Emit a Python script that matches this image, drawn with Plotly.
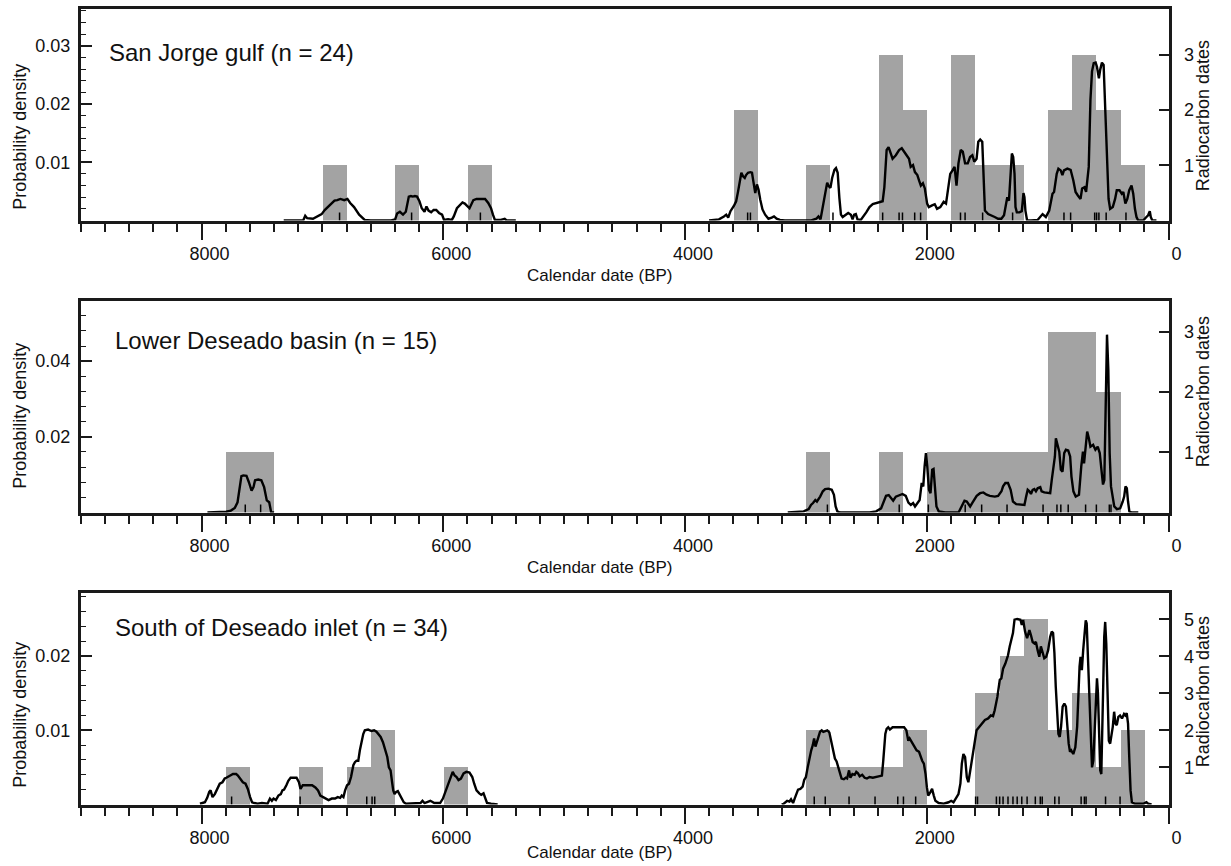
import plotly.graph_objects as go

# ---------------- data ----------------
x_tick_vals = [0, 2000, 4000, 6000, 8000]
x_tick_text = ["0", "2000", "4000", "6000", "8000"]

titles = ["San Jorge gulf (n = 24)", "Lower Deseado basin (n = 15)", "South of Deseado inlet (n = 34)"]

# histogram (200-yr bins): bin centres (cal BP) and counts
p1_bins = [6900, 6300, 5700, 3500, 2900, 2300, 2100, 1700, 1500, 1300, 900, 700, 500, 300]
p1_counts = [1, 1, 1, 2, 1, 3, 2, 3, 1, 1, 2, 3, 2, 1]
p2_bins = [7700, 7500, 2900, 2300, 1900, 1700, 1500, 1300, 1100, 900, 700, 500]
p2_counts = [1, 1, 1, 1, 1, 1, 1, 1, 1, 3, 3, 2]
p3_bins = [7700, 7100, 6700, 6500, 5900, 2900, 2700, 2500, 2300, 2100, 1500, 1300, 1100, 900, 700, 500, 300]
p3_counts = [1, 1, 1, 2, 1, 2, 1, 1, 1, 2, 3, 4, 5, 2, 3, 1, 2]

# summed probability density curves
p1_x = [7320, 7159, 7142, 7126, 7078, 7006, 6981, 6948, 6922, 6900,
        6877, 6851, 6819, 6793, 6770, 6738, 6696, 6650, 6600, 6430,
        6398, 6382, 6359, 6333, 6310, 6285, 6268, 6252, 6235, 6217,
        6197, 6178, 6155, 6139, 6122, 6100, 6080, 6058, 6035, 6010,
        5994, 5960, 5929, 5913, 5887, 5864, 5841, 5822, 5799, 5783,
        5751, 5725, 5686, 5654, 5628, 5605, 5589, 5573, 5524, 5492,
        5476, 5400, 3801, 3719, 3678, 3659, 3643, 3624, 3596, 3577,
        3561, 3547, 3534, 3520, 3506, 3495, 3479, 3460, 3446, 3433,
        3419, 3405, 3392, 3378, 3359, 3337, 3310, 3283, 3264, 3242,
        3215, 3174, 2955, 2914, 2896, 2879, 2860, 2841, 2824, 2811,
        2797, 2783, 2764, 2751, 2737, 2723, 2710, 2696, 2669, 2650,
        2628, 2614, 2601, 2587, 2573, 2546, 2501, 2474, 2447, 2406,
        2365, 2351, 2332, 2316, 2297, 2283, 2256, 2229, 2207, 2188,
        2169, 2147, 2133, 2114, 2098, 2078, 2064, 2049, 2032, 2016,
        1997, 1983, 1956, 1934, 1915, 1888, 1860, 1841, 1825, 1806,
        1787, 1770, 1754, 1738, 1719, 1702, 1683, 1661, 1642, 1623,
        1607, 1588, 1574, 1558, 1541, 1530, 1519, 1492, 1465, 1438,
        1410, 1383, 1361, 1348, 1334, 1320, 1307, 1296, 1285, 1274,
        1266, 1255, 1233, 1214, 1200, 1192, 1184, 1170, 1137, 1083,
        1042, 1015, 987, 960, 947, 925, 911, 892, 878, 865,
        837, 810, 788, 769, 750, 728, 715, 696, 682, 660,
        646, 633, 619, 603, 592, 576, 565, 551, 537, 524,
        510, 496, 483, 461, 442, 428, 406, 387, 374, 357,
        341, 325, 306, 292, 278, 265, 251, 210, 183, 169,
        155, 147, 134, 100]
p1_y = [0, 0, 0.0008, 0.0004, 0.0003, 0.0011, 0.0018, 0.0025, 0.0031, 0.0034,
        0.0035, 0.0037, 0.0035, 0.0037, 0.003, 0.0023, 0.001, 0.0001, 0, 0,
        0.0002, 0.0012, 0.0015, 0.001, 0.0015, 0.0041, 0.0042, 0.0041, 0.0042, 0.0041,
        0.0033, 0.0021, 0.0015, 0.0024, 0.0017, 0.0014, 0.0018, 0.0018, 0.0013, 0.001,
        0.0001, 0.0002, 0.0001, 0.0007, 0.0021, 0.0027, 0.0031, 0.0029, 0.0024, 0.0021,
        0.0035, 0.0037, 0.0037, 0.0037, 0.003, 0.0021, 0.001, 0.0001, 0.0001, 0.0003,
        0, 0, 0, 0.0002, 0.0007, 0.001, 0.0005, 0.0016, 0.0025, 0.0033,
        0.005, 0.007, 0.0082, 0.0076, 0.0073, 0.0078, 0.0082, 0.0083, 0.0082, 0.0065,
        0.0047, 0.0062, 0.0053, 0.0036, 0.0019, 0.001, 0.0003, 0.0005, 0.0007, 0.0003,
        0.0001, 0, 0, 0.0003, 0.0007, 0.0002, 0.0022, 0.0047, 0.0065, 0.0059,
        0.0056, 0.0073, 0.0087, 0.009, 0.0082, 0.0039, 0.001, 0.0006, 0.001, 0.0013,
        0.001, 0.0002, 0.001, 0.0011, 0.0002, 0.0001, 0.0014, 0.0023, 0.0028, 0.003,
        0.0033, 0.0057, 0.0121, 0.0126, 0.0115, 0.0106, 0.0112, 0.0121, 0.0124, 0.0118,
        0.0112, 0.0106, 0.0092, 0.0095, 0.0083, 0.0078, 0.0069, 0.006, 0.0064, 0.0055,
        0.0029, 0.0023, 0.0026, 0.0028, 0.002, 0.0023, 0.0032, 0.0029, 0.0052, 0.008,
        0.0086, 0.0092, 0.006, 0.0098, 0.0121, 0.0118, 0.0098, 0.0098, 0.0109, 0.0112,
        0.0101, 0.0106, 0.0135, 0.0139, 0.0135, 0.0075, 0.0017, 0.0011, 0.0009, 0.0006,
        0.0003, 0.0003, 0.0009, 0.0026, 0.004, 0.0034, 0.008, 0.0115, 0.0109, 0.008,
        0.0023, 0.0014, 0.0014, 0.0016, 0.0047, 0.004, 0.0017, 0, 0, 0.0001,
        0.0011, 0.0006, 0.0017, 0.0046, 0.0049, 0.008, 0.0089, 0.0086, 0.0078, 0.0086,
        0.0089, 0.0087, 0.0069, 0.0049, 0.0043, 0.0037, 0.0055, 0.0057, 0.0049, 0.0092,
        0.0207, 0.0256, 0.027, 0.0271, 0.0264, 0.0244, 0.0259, 0.0271, 0.0267, 0.0195,
        0.0109, 0.0037, 0.002, 0.0023, 0.0037, 0.0052, 0.0052, 0.0046, 0.0049, 0.0029,
        0.0037, 0.0052, 0.006, 0.0046, 0.002, 0.0006, 0, 0, 0.0006, 0.0009,
        0.0016, 0.0006, 0, 0]

p2_x = [7951, 7796, 7757, 7725, 7702, 7686, 7670, 7654, 7628, 7608,
        7586, 7570, 7557, 7531, 7505, 7482, 7460, 7440, 7424, 7400,
        3150, 3073, 3018, 2977, 2958, 2941, 2922, 2909, 2895, 2882,
        2860, 2841, 2814, 2786, 2768, 2754, 2740, 2718, 2473, 2419,
        2378, 2359, 2337, 2315, 2297, 2278, 2256, 2228, 2201, 2174,
        2152, 2132, 2113, 2097, 2078, 2059, 2042, 2029, 2018, 2007,
        1996, 1982, 1969, 1955, 1944, 1934, 1920, 1901, 1846, 1737,
        1710, 1688, 1669, 1641, 1622, 1606, 1587, 1559, 1532, 1505,
        1478, 1437, 1410, 1382, 1369, 1350, 1328, 1306, 1287, 1260,
        1219, 1192, 1178, 1165, 1151, 1138, 1124, 1110, 1097, 1083,
        1061, 1050, 1028, 1001, 979, 966, 951, 940, 932, 918,
        904, 891, 877, 863, 849, 830, 814, 803, 787, 768,
        741, 722, 708, 699, 686, 673, 659, 646, 624, 605,
        586, 569, 555, 542, 531, 520, 509, 498, 487, 476,
        466, 449, 427, 400, 379, 367, 356, 345, 335, 324,
        305, 250]
p2_y = [0, 0.0002, 0.0005, 0.0012, 0.0027, 0.0058, 0.0096, 0.0098, 0.0097, 0.008,
        0.0058, 0.0067, 0.0085, 0.0087, 0.0085, 0.0067, 0.0032, 0.0027, 0.0001, 0,
        0, 0.0002, 0.0003, 0.0009, 0.002, 0.0025, 0.0033, 0.0029, 0.0038, 0.0042,
        0.0056, 0.0062, 0.0063, 0.006, 0.0047, 0.0016, 0.0003, 0, 0, 0.0003,
        0.0011, 0.0029, 0.0044, 0.0046, 0.0037, 0.0031, 0.0042, 0.0046, 0.0049, 0.0044,
        0.0026, 0.002, 0.0025, 0.0016, 0.0026, 0.0033, 0.0078, 0.0069, 0.0122, 0.0157,
        0.0122, 0.006, 0.0051, 0.0113, 0.0115, 0.0078, 0.0016, 0.0003, 0, 0,
        0.0016, 0.0031, 0.0029, 0.0016, 0.0026, 0.0033, 0.0044, 0.0051, 0.0053, 0.0047,
        0.0044, 0.0042, 0.0044, 0.0056, 0.0069, 0.0078, 0.0078, 0.006, 0.0029, 0.0022,
        0.002, 0.002, 0.0042, 0.006, 0.0056, 0.0049, 0.006, 0.0062, 0.0056, 0.0064,
        0.0067, 0.0056, 0.0053, 0.0051, 0.0051, 0.0086, 0.013, 0.0148, 0.0196, 0.0179,
        0.0161, 0.0113, 0.0108, 0.0157, 0.0166, 0.0164, 0.0148, 0.0095, 0.0056, 0.0042,
        0.0047, 0.0122, 0.0161, 0.013, 0.0174, 0.0214, 0.0196, 0.0174, 0.0179, 0.0166,
        0.0174, 0.0157, 0.0113, 0.0074, 0.0086, 0.0245, 0.047, 0.0377, 0.0157, 0.0069,
        0.0051, 0.0016, 0.0009, 0.0011, 0.0029, 0.0042, 0.0069, 0.0064, 0.0029, 0.0003,
        0, 0]

p3_x = [8013, 7972, 7953, 7936, 7925, 7909, 7890, 7871, 7849, 7827,
        7808, 7795, 7778, 7762, 7740, 7713, 7699, 7680, 7658, 7636,
        7617, 7598, 7582, 7563, 7536, 7500, 7454, 7434, 7418, 7404,
        7385, 7364, 7344, 7331, 7317, 7298, 7282, 7263, 7235, 7214,
        7194, 7181, 7162, 7140, 7113, 7085, 7058, 7036, 7017, 6998,
        6976, 6949, 6922, 6895, 6873, 6853, 6840, 6826, 6812, 6796,
        6780, 6763, 6744, 6731, 6717, 6703, 6690, 6676, 6662, 6649,
        6622, 6594, 6572, 6553, 6540, 6518, 6499, 6480, 6463, 6450,
        6436, 6425, 6414, 6403, 6390, 6376, 6362, 6349, 6327, 6308,
        6269, 6188, 6172, 6155, 6123, 6107, 6074, 6026, 6003, 5987,
        5971, 5955, 5939, 5922, 5906, 5890, 5874, 5854, 5832, 5809,
        5783, 5760, 5744, 5725, 5702, 5686, 5667, 5654, 5638, 5605,
        5550, 3200, 3183, 3155, 3136, 3123, 3106, 3093, 3079, 3065,
        3046, 3027, 3014, 3000, 2984, 2970, 2956, 2943, 2932, 2921,
        2910, 2896, 2883, 2869, 2856, 2842, 2823, 2806, 2795, 2779,
        2760, 2746, 2733, 2719, 2705, 2686, 2670, 2659, 2643, 2632,
        2615, 2596, 2583, 2569, 2555, 2534, 2514, 2495, 2474, 2446,
        2419, 2392, 2371, 2360, 2343, 2332, 2319, 2305, 2283, 2256,
        2215, 2188, 2169, 2153, 2142, 2125, 2111, 2098, 2084, 2064,
        2051, 2038, 2024, 2010, 1999, 1988, 1969, 1956, 1942, 1929,
        1901, 1860, 1820, 1798, 1779, 1759, 1738, 1722, 1710, 1697,
        1683, 1669, 1656, 1642, 1628, 1607, 1588, 1568, 1547, 1519,
        1492, 1470, 1452, 1438, 1416, 1396, 1383, 1369, 1350, 1328,
        1314, 1301, 1287, 1274, 1252, 1225, 1214, 1203, 1187, 1170,
        1151, 1138, 1124, 1110, 1097, 1083, 1069, 1056, 1042, 1028,
        1012, 996, 979, 966, 955, 944, 933, 922, 911, 900,
        889, 876, 862, 849, 837, 826, 815, 805, 788, 771,
        756, 745, 736, 728, 717, 706, 696, 685, 677, 666,
        655, 644, 633, 622, 611, 600, 592, 584, 573, 565,
        556, 548, 540, 532, 524, 515, 505, 494, 483, 472,
        461, 450, 439, 428, 415, 401, 385, 368, 357, 346,
        335, 325, 314, 303, 278, 210, 183, 169, 140]
p3_y = [0.0001, 0.0003, 0.0009, 0.0017, 0.0019, 0.001, 0.0014, 0.0021, 0.0028, 0.003,
        0.0035, 0.0036, 0.0038, 0.0039, 0.0041, 0.0041, 0.0039, 0.0035, 0.003, 0.0028,
        0.0021, 0.001, 0.0003, 0.0002, 0.0001, 0.0002, 0.0001, 0.0008, 0.0005, 0.0008,
        0.0006, 0.0012, 0.0014, 0.0019, 0.002, 0.0026, 0.0032, 0.0036, 0.0036, 0.0036,
        0.003, 0.0021, 0.0026, 0.0026, 0.0027, 0.0026, 0.0023, 0.0019, 0.0012, 0.001,
        0.0008, 0.0006, 0.0008, 0.0008, 0.001, 0.0009, 0.0012, 0.001, 0.0019, 0.0026,
        0.0028, 0.0037, 0.0053, 0.0057, 0.0059, 0.0059, 0.0073, 0.0086, 0.0095, 0.01,
        0.0101, 0.0099, 0.01, 0.0098, 0.0095, 0.0091, 0.0084, 0.0075, 0.0064, 0.005,
        0.0046, 0.0032, 0.0019, 0.0014, 0.0017, 0.0018, 0.0014, 0.0009, 0.0003, 0.0001,
        0.0001, 0.0002, 0.0005, 0.0002, 0.0004, 0.0005, 0.0002, 0.0002, 0.0008, 0.0015,
        0.0022, 0.003, 0.0035, 0.0044, 0.0039, 0.0037, 0.0033, 0.0035, 0.0042, 0.0044,
        0.0043, 0.0037, 0.0028, 0.0019, 0.0015, 0.0013, 0.0015, 0.0008, 0.0002, 0.0001,
        0, 0, 0.0001, 0.0005, 0.0004, 0.0007, 0.0002, 0.0008, 0.0014, 0.002,
        0.0021, 0.0024, 0.0033, 0.0037, 0.0051, 0.0064, 0.0073, 0.008, 0.0089, 0.0078,
        0.0085, 0.0091, 0.0098, 0.01, 0.0098, 0.0099, 0.01, 0.0097, 0.0089, 0.0078,
        0.0062, 0.0058, 0.0051, 0.0042, 0.0035, 0.0034, 0.0036, 0.0035, 0.0046, 0.0036,
        0.0041, 0.004, 0.0044, 0.0042, 0.0038, 0.004, 0.0036, 0.0035, 0.0037, 0.0036,
        0.0037, 0.0038, 0.0039, 0.0059, 0.0095, 0.0102, 0.0104, 0.0101, 0.0104, 0.0104,
        0.0104, 0.0104, 0.01, 0.0086, 0.0089, 0.0084, 0.008, 0.0077, 0.0073, 0.0071,
        0.0064, 0.0059, 0.0055, 0.0041, 0.0023, 0.0012, 0.0017, 0.0021, 0.0012, 0.0005,
        0.0002, 0.0001, 0.0003, 0.0005, 0.0003, 0.0008, 0.0014, 0.0028, 0.0055, 0.0068,
        0.0064, 0.0037, 0.003, 0.0044, 0.0059, 0.0086, 0.01, 0.0104, 0.0109, 0.0114,
        0.0116, 0.012, 0.0119, 0.0127, 0.0145, 0.0168, 0.017, 0.0183, 0.019, 0.0201,
        0.0213, 0.0222, 0.0231, 0.0249, 0.025, 0.0249, 0.0242, 0.0249, 0.0233, 0.0224,
        0.0235, 0.0228, 0.0219, 0.0217, 0.0219, 0.0208, 0.0199, 0.0213, 0.0204, 0.0197,
        0.0199, 0.0208, 0.0226, 0.0233, 0.0231, 0.0204, 0.0159, 0.0127, 0.0095, 0.0091,
        0.0105, 0.0132, 0.0136, 0.0132, 0.01, 0.0082, 0.0071, 0.0073, 0.0068, 0.0077,
        0.0105, 0.0159, 0.0186, 0.0199, 0.0181, 0.0208, 0.0231, 0.0248, 0.0244, 0.0195,
        0.0127, 0.0073, 0.005, 0.0059, 0.0105, 0.0159, 0.017, 0.015, 0.0086, 0.0046,
        0.0041, 0.0086, 0.0163, 0.0226, 0.0246, 0.0217, 0.0141, 0.0086, 0.0082, 0.0091,
        0.0105, 0.0125, 0.0109, 0.0107, 0.0118, 0.012, 0.0116, 0.0122, 0.012, 0.0123,
        0.0109, 0.0064, 0.0019, 0.0003, 0.0001, 0.0001, 0.0003, 0.0001, 0]

# individual calibrated dates (rug)
p1_rug = [6858, 6262, 5693, 3482, 3459, 2776, 2365, 2229, 2201, 2100, 2051, 1721, 1683,
          1538, 1290, 865, 810, 611, 595, 576, 516, 352]
p2_rug = [7638, 7511, 2822, 2228, 1987, 1682, 1546, 1336, 1038, 923, 891, 830, 686, 597, 490, 476]
p3_rug = [7751, 7184, 6633, 6589, 6567, 2931, 2840, 2643, 2428, 2240, 2193, 2092, 1596, 1580,
          1424, 1397, 1369, 1328, 1287, 1252, 1214, 1170, 1102, 1061, 1045, 941, 906, 723,
          696, 682, 521, 401]

# axis scales
density_ranges = [[0, 0.0363], [0, 0.0559], [0, 0.0285]]
density_ticks = [[0.01, 0.02, 0.03], [0.02, 0.04], [0.01, 0.02]]
density_minor = [0.002, 0.004, 0.002]
count_ranges = [[0, 3.83], [0, 3.51], [0, 5.71]]
count_ticks = [[1, 2, 3], [1, 2, 3], [1, 2, 3, 4, 5]]

# ---------------- layout geometry ----------------
W, H = 1231, 866
X0, X1 = 81.5, 1181.0
panel_top = [9, 301, 593]
panel_bot = [220.5, 512.5, 804.5]
FONT = "Liberation Sans, Arial, Helvetica, sans-serif"
INK = "#1a1a1a"
BAR = "#a3a3a3"


def with_gaps(xs, ys, gap=1000):
    """Break the line where the curve has a long empty stretch."""
    ox, oy = [], []
    for k, (a, b) in enumerate(zip(xs, ys)):
        if k > 0 and abs(xs[k - 1] - a) > gap:
            ox.append(None)
            oy.append(None)
        ox.append(a)
        oy.append(b)
    return ox, oy


panels = [
    (p1_bins, p1_counts, p1_x, p1_y, p1_rug),
    (p2_bins, p2_counts, p2_x, p2_y, p2_rug),
    (p3_bins, p3_counts, p3_x, p3_y, p3_rug),
]

fig = go.Figure()
layout = dict(
    width=W, height=H,
    margin=dict(l=0, r=0, t=0, b=0),
    paper_bgcolor="white", plot_bgcolor="white",
    showlegend=False,
    font=dict(family=FONT, size=18, color="#111"),
    bargap=0,
    annotations=[],
)

for i, (bins, counts, cx, cy, rug) in enumerate(panels):
    xa = "x" if i == 0 else f"x{i+1}"
    yc = f"y{2*i+1}" if i > 0 else "y"
    yd = f"y{2*i+2}"
    xkey = "xaxis" if i == 0 else f"xaxis{i+1}"
    yckey = "yaxis" if i == 0 else f"yaxis{2*i+1}"
    ydkey = f"yaxis{2*i+2}"
    dom = [1 - panel_bot[i] / H, 1 - panel_top[i] / H]

    fig.add_trace(go.Bar(x=bins, y=counts, width=[200] * len(bins), xaxis=xa, yaxis=yc,
                         marker=dict(color=BAR, line=dict(width=0)), hoverinfo="skip"))
    gx, gy = with_gaps(cx, cy)
    fig.add_trace(go.Scatter(x=gx, y=gy, mode="lines", xaxis=xa, yaxis=yd,
                             line=dict(color="black", width=2.4), hoverinfo="skip",
                             connectgaps=False))
    h = density_ranges[i][1] * 8.0 / (panel_bot[i] - panel_top[i])
    rx, ry = [], []
    for d in rug:
        rx += [d, d, None]
        ry += [0, h, None]
    fig.add_trace(go.Scatter(x=rx, y=ry, mode="lines", xaxis=xa, yaxis=yd,
                             line=dict(color="black", width=1.5), hoverinfo="skip"))

    layout[xkey] = dict(
        domain=[X0 / W, X1 / W], range=[9000, 0], anchor=yc,
        showline=True, mirror=True, linecolor=INK, linewidth=2.5,
        ticks="outside", ticklen=17, tickwidth=2, tickcolor=INK,
        tickmode="array", tickvals=x_tick_vals, ticktext=x_tick_text,
        minor=dict(ticks="outside", ticklen=9, tickwidth=1.5, tickcolor=INK,
                   tickmode="linear", tick0=0, dtick=200),
        showgrid=False, zeroline=False, ticklabelshift=-8, ticklabelstandoff=-2,
        tickfont=dict(family=FONT, size=18, color="#111"),
    )
    layout[yckey] = dict(
        domain=dom, range=count_ranges[i], anchor=xa, side="right",
        showline=True, linecolor=INK, linewidth=2.5,
        ticks="inside", ticklen=10, tickwidth=1.5, tickcolor=INK,
        tickmode="array", tickvals=count_ticks[i], ticktext=[str(v) for v in count_ticks[i]],
        showgrid=False, zeroline=False, ticklabelstandoff=9,
        tickfont=dict(family=FONT, size=18, color="#111"),
    )
    layout[ydkey] = dict(
        overlaying=yc, range=density_ranges[i], anchor=xa, side="left",
        showline=True, linecolor=INK, linewidth=2.5,
        ticks="inside", ticklen=12, tickwidth=1.5, tickcolor=INK,
        tickmode="array", tickvals=density_ticks[i], ticktext=[f"{v:g}" for v in density_ticks[i]],
        minor=dict(ticks="inside", ticklen=6, tickwidth=1.2, tickcolor=INK,
                   tickmode="linear", tick0=0, dtick=density_minor[i]),
        showgrid=False, zeroline=False, ticklabelstandoff=4,
        tickfont=dict(family=FONT, size=18, color="#111"),
    )

title_x = [108, 114, 114]
title_y = [53, 341, 627]
pd_y = [137, 416, 715]
rd_y = [116, 392, 692]
cal_y = [275, 567, 852]
for i in range(3):
    layout["annotations"].append(dict(
        text=titles[i], xref="paper", yref="paper", x=title_x[i] / W, y=1 - title_y[i] / H,
        xanchor="left", yanchor="middle", showarrow=False,
        font=dict(family=FONT, size=24, color="#111")))
    layout["annotations"].append(dict(
        text="Probability density", xref="paper", yref="paper", x=20 / W, y=1 - pd_y[i] / H,
        xanchor="center", yanchor="middle", textangle=-90, showarrow=False,
        font=dict(family=FONT, size=18, color="#111")))
    layout["annotations"].append(dict(
        text="Radiocarbon dates", xref="paper", yref="paper", x=1216 / W, y=1 - rd_y[i] / H,
        xanchor="center", yanchor="middle", textangle=-90, showarrow=False,
        font=dict(family=FONT, size=18, color="#111")))
    layout["annotations"].append(dict(
        text="Calendar date (BP)", xref="paper", yref="paper", x=606 / W, y=1 - cal_y[i] / H,
        xanchor="center", yanchor="middle", showarrow=False,
        font=dict(family=FONT, size=17, color="#111")))

fig.update_layout(**layout)
# the page's default body margin would push the fixed-size figure off the window
fig.write_html("out.html",
               config={"displayModeBar": False},
               post_script="document.body.style.margin='0';document.body.style.overflow='hidden';")
